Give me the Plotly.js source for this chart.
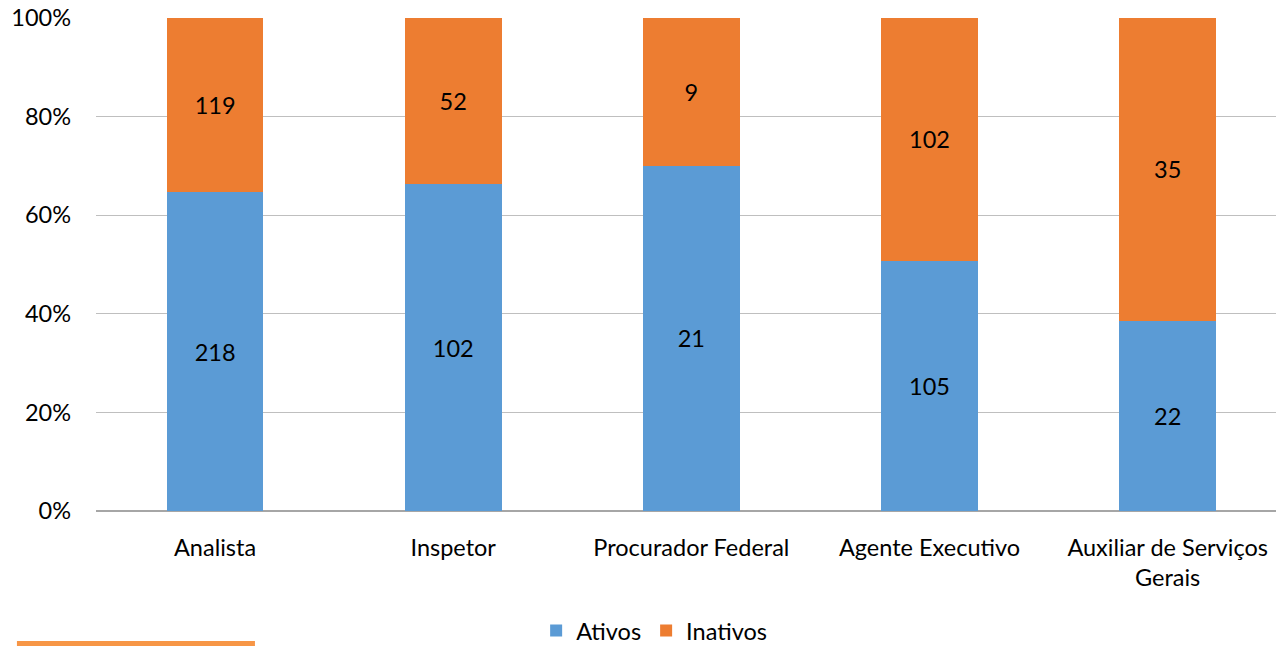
<!DOCTYPE html>
<html>
<head>
<meta charset="utf-8">
<script src="https://cdn.plot.ly/plotly-3.0.1.min.js"></script>
<style>html,body{margin:0;padding:0;background:#fff;}#chart{width:1276px;height:646px;}</style>
</head>
<body>
<div id="chart"></div>
<script>
var categories = ["Analista", "Inspetor", "Procurador Federal", "Agente Executivo", "Auxiliar de Serviços<br>Gerais"];
var ativos = [218, 102, 21, 105, 22];
var inativos = [119, 52, 9, 102, 35];
var seriesNames = ["Ativos", "Inativos"];
var yTicks = [0, 20, 40, 60, 80, 100];

var font = "Lato, 'Liberation Sans', sans-serif";
var fs = 23.5;
var traces = [
  {type: "bar", name: seriesNames[0], x: categories, y: ativos, text: ativos.map(String),
   textposition: "inside", insidetextanchor: "middle", constraintext: "none",
   textfont: {color: "#000", size: fs, family: font},
   marker: {color: "#5B9BD5"}, hoverinfo: "name+y"},
  {type: "bar", name: seriesNames[1], x: categories, y: inativos, text: inativos.map(String),
   textposition: "inside", insidetextanchor: "middle", constraintext: "none",
   textfont: {color: "#000", size: fs, family: font},
   marker: {color: "#ED7D31"}, hoverinfo: "name+y"}
];
var layout = {
  width: 1276, height: 646,
  margin: {l: 96, r: 0, t: 18, b: 135, autoexpand: false},
  barmode: "stack", barnorm: "percent", bargap: 0.594,
  paper_bgcolor: "#fff", plot_bgcolor: "#fff",
  font: {family: font, size: fs, color: "#000"},
  showlegend: true,
  legend: {orientation: "h", x: 0.473, xanchor: "center", y: -0.243, yanchor: "middle",
           font: {size: fs, family: font}, traceorder: "normal", itemwidth: 30,
           bgcolor: "rgba(0,0,0,0)"},
  xaxis: {type: "category", range: [-0.5, 4.455], showgrid: false, zeroline: false,
          showline: false, ticks: "", ticklabelstandoff: 20, tickfont: {size: fs}, automargin: false},
  yaxis: {range: [0, 100], tickvals: yTicks, ticktext: yTicks.map(function(v){return v + "%";}),
          showgrid: true, gridcolor: "#BFBFBF", gridwidth: 1.3, zeroline: true, zerolinecolor: "#A6A6A6",
          zerolinewidth: 1.5, ticks: "", ticklabelstandoff: 24, tickfont: {size: fs}, fixedrange: true, automargin: false},
  shapes: [{type: "rect", xref: "paper", yref: "paper", x0: -0.067, x1: 0.1347, y0: -0.2738, y1: -0.2637,
            fillcolor: "#F79646", line: {width: 0}}]
};
Plotly.newPlot("chart", traces, layout, {displayModeBar: false, responsive: false});
</script>
</body>
</html>
